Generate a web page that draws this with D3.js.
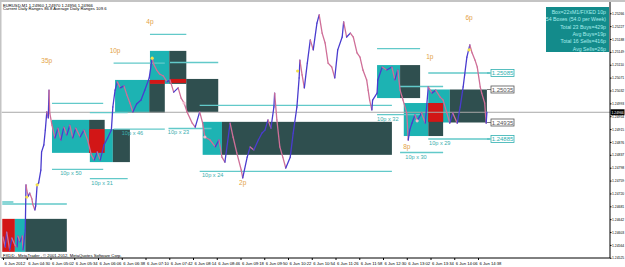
<!DOCTYPE html>
<html>
<head>
<meta charset="utf-8">
<script src="https://cdn.jsdelivr.net/npm/d3@7"></script>
<style>
body{margin:0;background:#fff;}
svg{display:block;font-family:"Liberation Sans",Arial,sans-serif;}
</style>
</head>
<body>
<svg width="625" height="267"></svg>
<script>
var day = '2012-06-06 ';

// EURUSD M1 close path
var priceTimes = ['03:58','04:01','04:03','04:07','04:10','04:14','04:17','04:18','04:21','04:24','04:25','04:28','04:29','04:30','04:32','04:34','04:37','04:38','04:41','04:42','04:44','04:46','04:49','04:50','04:53','04:55','04:57','04:59','05:00','05:01','05:04','05:08','05:12','05:16','05:20','05:24','05:28','05:32','05:36','05:42','05:47','05:52','05:57','06:01','06:05','06:09','06:14','06:19','06:24','06:26','06:29','06:32','06:36','06:41','06:45','06:49','06:53','06:58','07:04','07:09','07:15','07:19','07:21','07:25','07:29','07:34','07:39','07:43','07:48','07:54','07:58','08:02','08:06','08:13','08:17','08:23','08:27','08:30','08:37','08:44','08:49','08:53','08:57','09:04','09:08','09:13','09:19','09:21','09:27','09:31','09:36','09:42','09:47','09:51','09:55','09:59','10:03','10:04','10:07','10:11','10:15','10:19','10:25','10:29','10:34','10:37','10:38','10:41','10:44','10:48','10:52','10:56','11:01','11:04','11:08','11:12','11:16','11:21','11:25','11:29','11:35','11:37','11:41','11:46','11:50','11:55','11:59','12:03','12:08','12:10','12:12','12:15','12:16','12:22','12:23','12:29','12:35','12:42','12:46','12:50','12:53','12:57','13:02','13:04','13:06','13:09','13:13','13:16','13:22','13:27','13:31','13:36','13:41','13:47','13:51','13:56','14:00','14:04','14:10','14:14','14:18','14:20','14:23','14:27','14:30','14:34','14:37','14:41','14:43','14:47','14:49','14:50'];
var priceValues = [1.24588,1.24558,1.24603,1.24549,1.24585,1.24564,1.24558,1.24591,1.24573,1.24591,1.24549,1.24609,1.24746,1.24730,1.24712,1.24721,1.24703,1.24688,1.24670,1.24682,1.24746,1.24752,1.24791,1.24846,1.24867,1.24912,1.24967,1.24949,1.25033,1.24964,1.24927,1.24888,1.24918,1.24882,1.24921,1.24897,1.24927,1.24888,1.24918,1.24891,1.24912,1.24882,1.24837,1.24821,1.24846,1.24821,1.24867,1.24888,1.24912,1.24982,1.25033,1.25058,1.25040,1.25046,1.25018,1.24994,1.24967,1.24991,1.25003,1.25033,1.25070,1.25130,1.25112,1.25094,1.25082,1.25076,1.25058,1.25064,1.25027,1.25040,1.25009,1.24994,1.24967,1.24933,1.24921,1.24967,1.24933,1.24891,1.24882,1.24861,1.24882,1.24830,1.24815,1.24933,1.24891,1.24843,1.24791,1.24767,1.24830,1.24861,1.24852,1.24882,1.24903,1.24912,1.24943,1.24918,1.24982,1.25024,1.24943,1.24861,1.24830,1.24797,1.24830,1.24903,1.24982,1.25070,1.25124,1.25079,1.25040,1.25115,1.25185,1.25155,1.25236,1.25261,1.25206,1.25176,1.25115,1.25103,1.25070,1.25155,1.25194,1.25240,1.25194,1.25206,1.25194,1.25146,1.25133,1.25094,1.25064,1.25033,1.25003,1.24973,1.25003,1.25024,1.25064,1.25103,1.25094,1.25103,1.25064,1.25094,1.25033,1.25003,1.24964,1.24882,1.24912,1.24933,1.24958,1.24940,1.24964,1.24933,1.25043,1.25024,1.25033,1.25012,1.25003,1.24964,1.24933,1.24964,1.24933,1.24982,1.25043,1.25079,1.25133,1.25170,1.25146,1.25124,1.25103,1.25043,1.25024,1.24994,1.24933,1.24966];

// boxes, in drawing order
var boxKinds = ['red','cyan','dark','cyan','dark','cyan','red','dark','cyan','dark','cyan','dark','red','red','dark','cyan','dark','cyan','dark','cyan','dark','cyan','dark','red'];
var boxStarts = ['03:57','04:14','04:28','05:04','05:54','05:55','05:54','06:26','06:29','07:15','07:16','07:42','07:16','07:43','08:05','08:27','08:53','12:22','12:53','13:31','14:00','12:58','13:31','13:31'];
var boxEnds = ['04:14','04:28','05:24','05:54','06:15','06:26','06:15','06:49','07:15','07:36','07:42','08:05','07:36','08:05','08:48','08:53','12:42','12:53','13:20','14:00','14:50','13:31','13:51','13:51'];
var boxHighs = [1.24643,1.24643,1.24643,1.24943,1.24943,1.24915,1.24915,1.24915,1.25064,1.25064,1.25152,1.25152,1.25064,1.25067,1.25067,1.24937,1.24937,1.25109,1.25109,1.25035,1.25035,1.24994,1.24994,1.24994];
var boxLows = [1.24543,1.24543,1.24543,1.24843,1.24843,1.24815,1.24843,1.24815,1.24964,1.24964,1.25052,1.25052,1.25052,1.25055,1.24967,1.24837,1.24837,1.25009,1.25009,1.24935,1.24935,1.24894,1.24894,1.24937];

// target lines 5 pips outside the boxes
var lineStarts = ['03:57','03:57','05:04','05:04','05:55','05:55','06:27','06:27','07:16','07:43','07:41','08:23','08:23','12:22','12:22','12:53','12:53','13:31','13:31'];
var lineEnds = ['04:12','05:24','06:13','06:13','06:46','06:46','07:36','07:36','08:05','08:48','08:39','12:42','12:42','13:20','13:20','13:51','13:51','14:54','14:54'];
var linePrices = [1.24694,1.24688,1.24993,1.24793,1.24965,1.24765,1.25115,1.24915,1.25202,1.25117,1.24917,1.24987,1.24787,1.25159,1.24959,1.25044,1.24844,1.25085,1.24885];

var boxLabelTexts = ['10p x 50','10p x 31','10p x 46','10p x 23','10p x 24','10p x 32','10p x 29','10p x 30'];
var boxLabelTimes = ['05:15','05:57','06:38','07:40','08:26','12:22','13:32','13:00'];
var boxLabelPrices = [1.24793,1.24765,1.24915,1.24917,1.24787,1.24959,1.24885,1.24844];

var pipTexts = ['35p','10p','4p','2p','8p','1p','6p'];
var pipTimes = ['04:57','06:29','07:16','09:21','13:02','13:33','14:26'];
var pipPrices = [1.25123,1.25153,1.25241,1.24753,1.24862,1.25135,1.25253];

var markerTimes = ['04:30','04:44','07:19','08:02','08:30','10:35','13:16','14:26'];
var markerPrices = [1.24709,1.24746,1.25130,1.24994,1.24891,1.25091,1.24940,1.25155];
var markerColors = ['#f4e04a','#f4e04a','#f4e04a','#f2b8cc','#f2b8cc','#f4e04a','#f2b8cc','#f4e04a'];

var tagPrices = [1.25085,1.25035,1.24935,1.24885];
var tagColors = ['#2fb0b0','#555','#555','#2fb0b0'];

var currentPrice = 1.24966;

var priceTicks = [1.24525,1.24564,1.24603,1.24642,1.24681,1.24720,1.24759,1.24798,1.24837,1.24876,1.24915,1.24954,1.24993,1.25032,1.25071,1.25110,1.25149,1.25188,1.25227,1.25266];
var timeTicks = ['03:58','04:30','05:02','05:34','06:06','06:38','07:10','07:42','08:14','08:46','09:18','09:50','10:22','10:54','11:26','11:58','12:30','13:02','13:34','14:06','14:38'];

var infoLines = ['Box=22xM1/FIXED 10p','54 Boxes (54.0 per Week)','Total 23 Buys=429p','Avg Buys=19p','Total 16 Sells=416p','Avg Sells=26p'];
var titleLines = ['EURUSD,M1  1.24960 1.24970 1.24956 1.24966','Current Daily Ranges 86.8     Average Daily Ranges 109.6'];

var colors = {cyan: '#1db3b3', dark: '#2f4f4f', red: '#d21616'};

var parseTime = d3.timeParse('%Y-%m-%d %H:%M');
function t(s){ return parseTime(day + s); }

var svg = d3.select('svg');
var x = d3.scaleTime().domain([t('03:58'), t('14:38')]).range([3, 478]);
var y = d3.scaleLinear().domain([1.24885, 1.25085]).range([139, 73]);
var plotRight = 610, plotBottom = 258, plotTop = 2, plotLeft = 1.5;

svg.append('defs').append('clipPath').attr('id', 'plot')
  .append('rect').attr('x', plotLeft).attr('y', plotTop)
  .attr('width', plotRight - plotLeft).attr('height', plotBottom - plotTop);

// window frame
svg.append('rect').attr('x', 0).attr('y', 0).attr('width', 625).attr('height', 2).attr('fill', '#c4c4c4');
svg.append('rect').attr('x', 0).attr('y', 0).attr('width', 1.5).attr('height', plotBottom).attr('fill', '#c4c4c4');

var plot = svg.append('g').attr('clip-path', 'url(#plot)');

plot.selectAll('rect.box')
  .data(boxKinds.map(function(k, i){
    return {kind: k, t0: t(boxStarts[i]), t1: t(boxEnds[i]), hi: boxHighs[i], lo: boxLows[i]};
  }))
  .enter().append('rect')
  .attr('class', 'box')
  .attr('x', function(d){ return x(d.t0); })
  .attr('y', function(d){ return y(d.hi); })
  .attr('width', function(d){ return x(d.t1) - x(d.t0); })
  .attr('height', function(d){ return y(d.lo) - y(d.hi); })
  .attr('fill', function(d){ return colors[d.kind]; });

// current price line
plot.append('line')
  .attr('x1', plotLeft).attr('x2', plotRight)
  .attr('y1', y(currentPrice)).attr('y2', y(currentPrice))
  .attr('stroke', '#a8a8a8').attr('stroke-width', 1);

plot.selectAll('line.target')
  .data(linePrices.map(function(p, i){ return {p: p, t0: t(lineStarts[i]), t1: t(lineEnds[i])}; }))
  .enter().append('line')
  .attr('class', 'target')
  .attr('x1', function(d){ return x(d.t0); })
  .attr('x2', function(d){ return x(d.t1); })
  .attr('y1', function(d){ return y(d.p); })
  .attr('y2', function(d){ return y(d.p); })
  .attr('stroke', '#62c9c9').attr('stroke-width', 1.4);

var pts = priceTimes.map(function(s, i){ return {t: t(s), p: priceValues[i]}; });
var segs = d3.pairs(pts);
plot.selectAll('line.seg')
  .data(segs)
  .enter().append('line')
  .attr('class', 'seg')
  .attr('x1', function(d){ return x(d[0].t); })
  .attr('y1', function(d){ return y(d[0].p); })
  .attr('x2', function(d){ return x(d[1].t); })
  .attr('y2', function(d){ return y(d[1].p); })
  .attr('stroke', function(d){ return d[1].p >= d[0].p ? '#4a3ccf' : '#cf6f98'; })
  .attr('stroke-width', 1.3)
  .attr('stroke-linecap', 'round');

plot.selectAll('circle.mark')
  .data(markerTimes.map(function(s, i){ return {t: t(s), p: markerPrices[i], c: markerColors[i]}; }))
  .enter().append('circle')
  .attr('class', 'mark')
  .attr('cx', function(d){ return x(d.t); })
  .attr('cy', function(d){ return y(d.p); })
  .attr('r', 1.6)
  .attr('fill', function(d){ return d.c; });

plot.selectAll('text.boxlabel')
  .data(boxLabelTexts)
  .enter().append('text')
  .attr('class', 'boxlabel')
  .attr('x', function(d, i){ return x(t(boxLabelTimes[i])); })
  .attr('y', function(d, i){ return y(boxLabelPrices[i]) + 6; })
  .attr('font-size', 5.6)
  .attr('fill', '#3aaeae')
  .text(function(d){ return d; });

plot.selectAll('text.pip')
  .data(pipTexts)
  .enter().append('text')
  .attr('class', 'pip')
  .attr('x', function(d, i){ return x(t(pipTimes[i])); })
  .attr('y', function(d, i){ return y(pipPrices[i]) + 2.5; })
  .attr('text-anchor', 'middle')
  .attr('font-size', 6.5)
  .attr('fill', '#e4a244')
  .text(function(d){ return d; });

// price tags right of the last box
var tags = svg.selectAll('g.tag')
  .data(tagPrices)
  .enter().append('g')
  .attr('class', 'tag')
  .attr('transform', function(d){ return 'translate(491,' + y(d) + ')'; });
tags.append('line').attr('x1', -4).attr('x2', 0).attr('y1', 0).attr('y2', 0)
  .attr('stroke', function(d, i){ return tagColors[i]; }).attr('stroke-width', 0.8);
tags.append('rect').attr('x', 0).attr('y', -3.5).attr('width', 23).attr('height', 7)
  .attr('fill', '#fff')
  .attr('stroke', function(d, i){ return tagColors[i]; }).attr('stroke-width', 0.8);
tags.append('text').attr('x', 11.5).attr('y', 2.2).attr('text-anchor', 'middle')
  .attr('font-size', 6).attr('fill', function(d, i){ return tagColors[i]; })
  .text(function(d){ return d.toFixed(5); });

// info panel
var info = svg.append('g');
info.append('rect').attr('x', 546).attr('y', 7).attr('width', 63).attr('height', 45).attr('fill', '#138b8b');
info.selectAll('text')
  .data(infoLines)
  .enter().append('text')
  .attr('x', 606)
  .attr('y', function(d, i){ return 13.8 + i * 7.4; })
  .attr('text-anchor', 'end')
  .attr('font-size', 5.2)
  .attr('fill', '#a6ecec')
  .text(function(d){ return d; });

svg.selectAll('text.title')
  .data(titleLines)
  .enter().append('text')
  .attr('class', 'title')
  .attr('x', 3)
  .attr('y', function(d, i){ return 6.5 + i * 3.8; })
  .attr('font-size', 4.2)
  .attr('fill', '#000')
  .text(function(d){ return d; });

svg.append('text').attr('x', 3).attr('y', 257.3).attr('font-size', 4.2).attr('fill', '#000')
  .text('FXDD - MetaTrader , \u00a9 2001-2012, MetaQuotes Software Corp.');

// axes
var yAxis = d3.axisRight(y).tickValues(priceTicks).tickSize(1.5).tickPadding(0.5)
  .tickFormat(d3.format('.5f'));
var gy = svg.append('g').attr('transform', 'translate(' + plotRight + ',0)').call(yAxis);
gy.select('.domain').remove();
gy.selectAll('text').attr('font-size', 3.4).attr('fill', '#000')
  .attr('font-family', '"Liberation Sans",Arial,sans-serif');
gy.selectAll('line').attr('stroke', '#000');

var xAxis = d3.axisBottom(x).tickValues(timeTicks.map(t)).tickSize(2).tickPadding(2)
  .tickFormat(function(d, i){ return i === 0 ? '6 Jun 2012' : '6 Jun ' + d3.timeFormat('%H:%M')(d); });
var gx = svg.append('g').attr('transform', 'translate(0,' + plotBottom + ')').call(xAxis);
gx.select('.domain').remove();
gx.selectAll('text').attr('text-anchor', 'start').attr('x', 1).attr('font-size', 4.2)
  .attr('fill', '#000').attr('font-family', '"Liberation Sans",Arial,sans-serif');
gx.selectAll('line').attr('stroke', '#000');

svg.append('line').attr('x1', plotRight).attr('x2', plotRight).attr('y1', plotTop).attr('y2', plotBottom)
  .attr('stroke', '#000').attr('stroke-width', 1);
svg.append('line').attr('x1', plotLeft).attr('x2', plotRight).attr('y1', plotBottom).attr('y2', plotBottom)
  .attr('stroke', '#000').attr('stroke-width', 1);

// current price marker on the axis
var cur = svg.append('g').attr('transform', 'translate(' + (plotRight + 0.5) + ',' + y(currentPrice) + ')');
cur.append('rect').attr('x', 0).attr('y', -3).attr('width', 14).attr('height', 6).attr('fill', '#000');
cur.append('text').attr('x', 1).attr('y', 1.3).attr('font-size', 3.4).attr('fill', '#fff')
  .text(d3.format('.5f')(currentPrice));
</script>
</body>
</html>
